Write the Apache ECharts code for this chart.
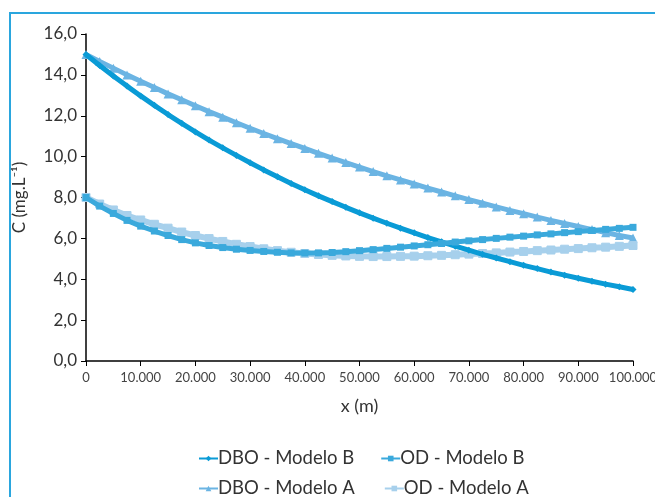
<!DOCTYPE html>
<html>
<head>
<meta charset="utf-8">
<script src="https://cdn.jsdelivr.net/npm/echarts@6/dist/echarts.min.js"></script>
<style>
  html, body { margin: 0; padding: 0; background: #fff; }
  #chart { width: 655px; height: 497px; }
</style>
</head>
<body>
<div id="chart"></div>
<script>
// distance along the river (m), every 2500 m
var distances = [0, 2500, 5000, 7500, 10000, 12500, 15000, 17500, 20000, 22500,
	25000, 27500, 30000, 32500, 35000, 37500, 40000, 42500, 45000, 47500,
	50000, 52500, 55000, 57500, 60000, 62500, 65000, 67500, 70000, 72500,
	75000, 77500, 80000, 82500, 85000, 87500, 90000, 92500, 95000, 97500, 100000];

var dboModeloB = [15.00, 14.46, 13.95, 13.45, 12.97, 12.51, 12.06, 11.63, 11.21, 10.81,
	10.43, 10.06, 9.70, 9.35, 9.02, 8.69, 8.38, 8.08, 7.80, 7.52,
	7.25, 6.99, 6.74, 6.50, 6.27, 6.04, 5.83, 5.62, 5.42, 5.22,
	5.04, 4.86, 4.68, 4.52, 4.35, 4.20, 4.05, 3.90, 3.76, 3.63, 3.50];

var odModeloB = [8.00, 7.58, 7.22, 6.88, 6.60, 6.36, 6.14, 5.94, 5.78, 5.65,
	5.55, 5.47, 5.41, 5.36, 5.32, 5.29, 5.28, 5.29, 5.31, 5.35,
	5.40, 5.45, 5.51, 5.57, 5.63, 5.69, 5.75, 5.82, 5.88, 5.94,
	6.00, 6.06, 6.11, 6.17, 6.22, 6.28, 6.33, 6.39, 6.44, 6.49, 6.54];

var dboModeloA = [15.00, 14.66, 14.33, 14.00, 13.69, 13.38, 13.07, 12.78, 12.49, 12.20,
	11.93, 11.66, 11.39, 11.13, 10.88, 10.64, 10.40, 10.16, 9.93, 9.71,
	9.49, 9.27, 9.06, 8.86, 8.66, 8.46, 8.27, 8.08, 7.90, 7.72,
	7.54, 7.37, 7.21, 7.04, 6.88, 6.73, 6.58, 6.43, 6.28, 6.14, 6.02];

var odModeloA = [8.00, 7.68, 7.39, 7.12, 6.90, 6.69, 6.50, 6.31, 6.14, 5.99,
	5.85, 5.71, 5.60, 5.49, 5.40, 5.32, 5.26, 5.21, 5.17, 5.14,
	5.12, 5.11, 5.11, 5.12, 5.13, 5.15, 5.17, 5.20, 5.23, 5.26,
	5.29, 5.33, 5.36, 5.40, 5.43, 5.47, 5.50, 5.54, 5.57, 5.61, 5.65];

var yTicks = [0, 2, 4, 6, 8, 10, 12, 14, 16];
var xTickStep = 10000;

function pairs(ys) {
	return distances.map(function (x, i) { return [x, ys[i]]; });
}

var fontFam = 'Lato, "Open Sans", sans-serif';

var myChart = echarts.init(document.getElementById('chart'));

var option = {
	animation: false,
	textStyle: { fontFamily: fontFam },
	graphic: [
		{
			type: 'rect',
			shape: { x: 10, y: 13, width: 800, height: 600 },
			style: { fill: 'none', stroke: '#2aa6de', lineWidth: 2 }
		}
	],
	legend: [
		{
			left: 193,
			top: 444,
			itemWidth: 19,
			itemHeight: 7,
			itemGap: 26,
			textStyle: { fontSize: 18.5, color: '#333', fontFamily: fontFam, padding: [0, 0, 0, -5] },
			data: ['DBO - Modelo B', 'OD - Modelo B']
		},
		{
			left: 193,
			top: 474,
			itemWidth: 19,
			itemHeight: 7,
			itemGap: 29,
			textStyle: { fontSize: 18.5, color: '#333', fontFamily: fontFam, padding: [0, 0, 0, -5] },
			data: ['DBO - Modelo A', 'OD - Modelo A']
		}
	],
	grid: {
		left: 86,
		right: 22,
		top: 34,
		bottom: 136,
		outerBoundsMode: 'none',
		containLabel: false
	},
	xAxis: {
		type: 'value',
		min: 0,
		max: 100000,
		interval: xTickStep,
		name: 'x (m)',
		nameLocation: 'middle',
		nameGap: 36,
		nameTextStyle: { fontSize: 18, color: '#333', fontFamily: fontFam },
		splitLine: { show: false },
		axisLine: { lineStyle: { color: '#000', width: 1.5 } },
		axisTick: { length: 5, lineStyle: { color: '#000' } },
		axisLabel: {
			fontSize: 13,
			color: '#444',
			margin: 10,
			formatter: function (v) {
				return String(v).replace(/\B(?=(\d{3})+(?!\d))/g, '.');
			}
		}
	},
	yAxis: {
		type: 'value',
		min: yTicks[0],
		max: yTicks[yTicks.length - 1],
		interval: 2,
		name: 'C (mg.L⁻¹)',
		nameLocation: 'middle',
		nameGap: 58,
		nameTextStyle: { fontSize: 17, color: '#333', fontFamily: fontFam },
		splitLine: { show: false },
		axisLine: { show: true, lineStyle: { color: '#000', width: 1.5 } },
		axisTick: { show: true, length: 5, lineStyle: { color: '#000' } },
		axisLabel: {
			fontSize: 17,
			color: '#333',
			margin: 9,
			formatter: function (v) { return v.toFixed(1).replace('.', ','); }
		}
	},
	series: [
		{
			name: 'DBO - Modelo A',
			type: 'line',
			data: pairs(dboModeloA),
			symbol: 'triangle',
			symbolSize: 9,
			z: 2,
			itemStyle: { color: '#6bb4e3' },
			lineStyle: { color: '#6bb4e3', width: 5 }
		},
		{
			name: 'OD - Modelo A',
			type: 'line',
			data: pairs(odModeloA),
			symbol: 'rect',
			symbolSize: 8,
			z: 2,
			itemStyle: { color: '#a7d0ec', borderColor: '#a7d0ec' },
			lineStyle: { color: '#a7d0ec', width: 6 }
		},
		{
			name: 'DBO - Modelo B',
			type: 'line',
			data: pairs(dboModeloB),
			symbol: 'diamond',
			symbolSize: 7,
			z: 3,
			itemStyle: { color: '#0a9bd6' },
			lineStyle: { color: '#0a9bd6', width: 5 }
		},
		{
			name: 'OD - Modelo B',
			type: 'line',
			data: pairs(odModeloB),
			symbol: 'rect',
			symbolSize: 7,
			z: 3,
			itemStyle: { color: '#3aa9dc' },
			lineStyle: { color: '#3aa9dc', width: 5 }
		}
	]
};
myChart.setOption(option);
</script>
</body>
</html>
